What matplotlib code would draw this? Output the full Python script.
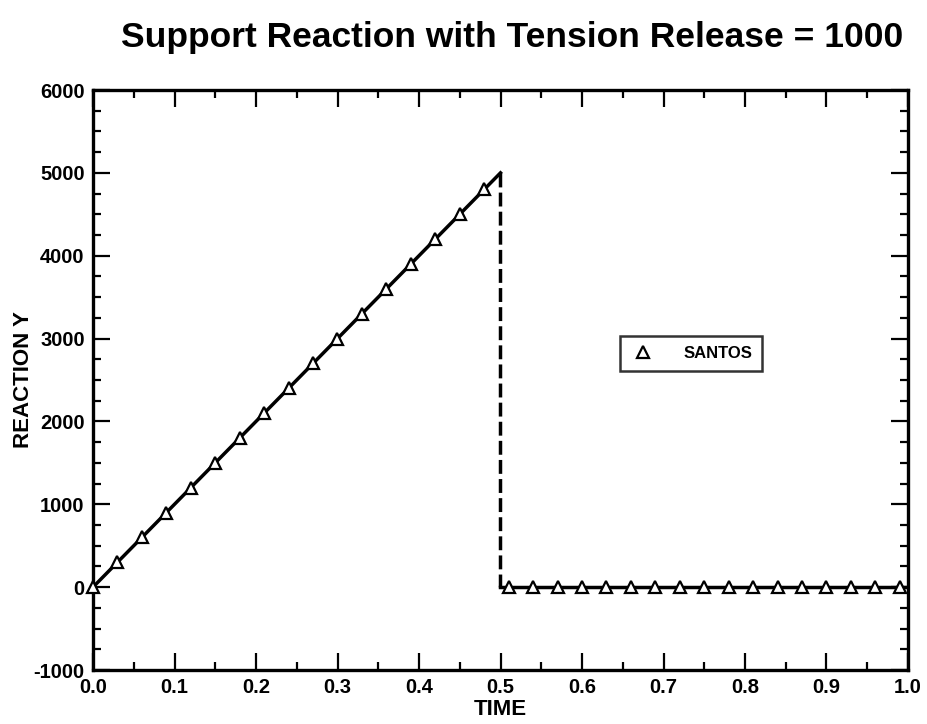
import numpy as np
import matplotlib
matplotlib.use("Agg")
import matplotlib.pyplot as plt
from matplotlib.ticker import MultipleLocator, FormatStrFormatter
from matplotlib.lines import Line2D

plt.rcParams['font.family'] = ['Liberation Sans', 'DejaVu Sans']
plt.rcParams['font.weight'] = 'bold'
plt.rcParams['axes.unicode_minus'] = False

# Data
line_time = [0.0, 0.5]
line_reaction = [0.0, 5000.0]
drop_time = [0.5, 0.5]
drop_reaction = [5000.0, 0.0]
flat_time = [0.5, 1.0]
flat_reaction = [0.0, 0.0]
santos_time = [0.00, 0.03, 0.06, 0.09, 0.12, 0.15, 0.18, 0.21, 0.24, 0.27, 0.30,
               0.33, 0.36, 0.39, 0.42, 0.45, 0.48,
               0.51, 0.54, 0.57, 0.60, 0.63, 0.66, 0.69, 0.72, 0.75, 0.78,
               0.81, 0.84, 0.87, 0.90, 0.93, 0.96, 0.99]
santos_reaction = [0, 300, 600, 900, 1200, 1500, 1800, 2100, 2400, 2700, 3000,
                   3300, 3600, 3900, 4200, 4500, 4800,
                   0, 0, 0, 0, 0, 0, 0, 0, 0, 0, 0, 0, 0, 0, 0, 0, 0]

fig = plt.figure(figsize=(9.28, 7.24), dpi=100)
ax = fig.add_axes([93/928, 1-670/724, (908-93)/928, (670-90)/724])

ax.plot(line_time, line_reaction, color='black', lw=2.5, zorder=2)
ax.plot(drop_time, drop_reaction, color='black', lw=2.5, ls=(0, (4, 1.5)), zorder=2)
ax.plot(flat_time, flat_reaction, color='black', lw=2.5, zorder=2)
ax.plot(santos_time, santos_reaction, ls='none', marker='^', ms=8.5,
        mfc='white', mec='black', mew=1.6, zorder=3, clip_on=False)

ax.set_xlim(0, 1.0)
ax.set_ylim(-1000, 6000)
ax.xaxis.set_major_locator(MultipleLocator(0.1))
ax.xaxis.set_minor_locator(MultipleLocator(0.05))
ax.yaxis.set_major_locator(MultipleLocator(1000))
ax.yaxis.set_minor_locator(MultipleLocator(250))
ax.xaxis.set_major_formatter(FormatStrFormatter('%.1f'))
ax.tick_params(which='both', direction='in', top=True, right=True, width=1.6,
               labelsize=14.5)
ax.tick_params(axis='x', which='major', pad=6)
ax.tick_params(axis='y', which='major', pad=6)
ax.tick_params(which='major', length=12.5)
ax.tick_params(which='minor', length=6)
for lab in ax.get_xticklabels() + ax.get_yticklabels():
    lab.set_fontweight('bold')
for s in ax.spines.values():
    s.set_linewidth(2.4)

ax.set_xlabel('TIME', fontsize=16, fontweight='bold', labelpad=1)
ax.set_ylabel('REACTION Y', fontsize=16, fontweight='bold', labelpad=0)

fig.text(512/928, 1-47/724, 'Support Reaction with Tension Release = 1000',
         ha='center', va='baseline', fontsize=25.5, fontweight='bold')

handle = Line2D([], [], ls='none', marker='^', ms=8.5, mfc='white', mec='black', mew=1.6)
leg = ax.legend([handle], ['SANTOS'], loc='center', bbox_to_anchor=(0.7335, 0.546),
                frameon=True, fancybox=False, edgecolor='black',
                handletextpad=1.6, borderpad=0.6, borderaxespad=0, handlelength=1.6,
                prop={'weight': 'bold', 'size': 12})
leg.get_frame().set_linewidth(1.8)

fig.savefig('out.png', dpi=100)
